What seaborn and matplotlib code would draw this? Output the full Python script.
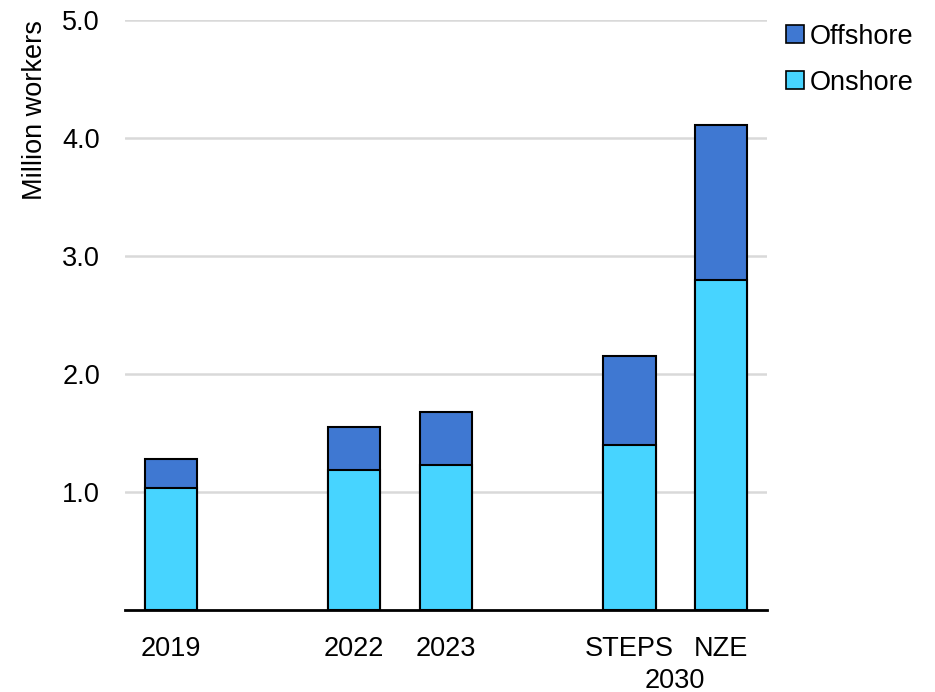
import numpy as np
import pandas as pd
import matplotlib
matplotlib.use("Agg")
import matplotlib.pyplot as plt
import seaborn as sns
from matplotlib.patches import Patch
from matplotlib.transforms import blended_transform_factory

# data (million workers)
categories = ["2019", "gap1", "2022", "2023", "gap2", "STEPS", "NZE"]
tick_labels = ["2019", "", "2022", "2023", "", "STEPS", "NZE"]
onshore = [1.03, np.nan, 1.19, 1.23, np.nan, 1.40, 2.80]
offshore = [0.25, np.nan, 0.36, 0.45, np.nan, 0.75, 1.31]

OFF_COLOR = "#3F78D2"
ON_COLOR = "#47D4FF"
FS = 19.5

sns.set_style("white")
plt.rcParams["font.family"] = ["Liberation Sans", "DejaVu Sans"]
plt.rcParams["text.color"] = "black"

df = pd.DataFrame({"cat": categories, "onshore": onshore, "offshore": offshore})
df["total"] = df["onshore"] + df["offshore"]

fig = plt.figure(figsize=(9.35, 6.92), dpi=100)
ax = fig.add_axes([0.1337, 0.1185, 0.6866, 0.8525])

sns.barplot(data=df, x="cat", y="total", order=categories, color=OFF_COLOR,
            saturation=1, width=0.57, edgecolor="black", linewidth=1.5, ax=ax)
sns.barplot(data=df, x="cat", y="onshore", order=categories, color=ON_COLOR,
            saturation=1, width=0.57, edgecolor="black", linewidth=1.5, ax=ax)

ax.set_xlim(-0.5, len(categories) - 0.5)
ax.set_ylim(0, 5.0)
ax.set_yticks([1, 2, 3, 4, 5])
ax.set_yticklabels([f"{v:.1f}" for v in [1, 2, 3, 4, 5]])
ax.set_xticks(range(len(categories)))
ax.set_xticklabels(tick_labels)
ax.tick_params(axis="both", length=0, labelsize=FS, colors="black")
ax.tick_params(axis="y", pad=18)
ax.tick_params(axis="x", pad=19)
ax.grid(axis="y", color="#D9D9D9", linewidth=1.8)
ax.set_axisbelow(True)
for s in ["top", "right", "left"]:
    ax.spines[s].set_visible(False)
ax.spines["bottom"].set_color("black")
ax.spines["bottom"].set_linewidth(2)
ax.set_xlabel("")
ax.set_ylabel("Million workers", fontsize=FS, loc="top", labelpad=10, color="black")

trans = blended_transform_factory(ax.transData, ax.transAxes)
ax.text(5.5, -0.098, "2030", transform=trans, ha="center", va="top", fontsize=FS)

handles = [Patch(facecolor=OFF_COLOR, edgecolor="black", linewidth=1.2, label="Offshore"),
           Patch(facecolor=ON_COLOR, edgecolor="black", linewidth=1.2, label="Onshore")]
leg = fig.legend(handles=handles, loc="upper left", bbox_to_anchor=(0.841, 0.966),
                 frameon=False, fontsize=FS, handlelength=0.65, handleheight=0.65,
                 handletextpad=0.2, labelspacing=0.75, borderaxespad=0, borderpad=0)
for t in leg.get_texts():
    t.set_color("black")

fig.savefig("out.png", dpi=100)
